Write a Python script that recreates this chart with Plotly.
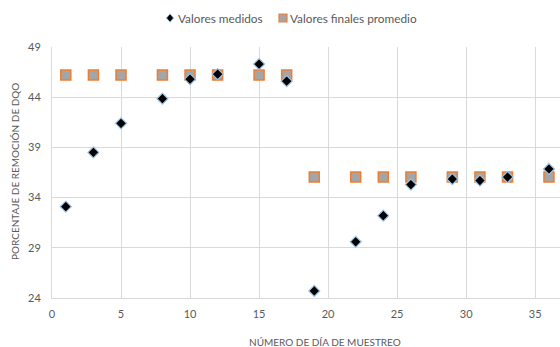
import plotly.graph_objects as go

# Sampling days and COD removal percentages
dias = [1, 3, 5, 8, 10, 12, 15, 17, 19, 22, 24, 26, 29, 31, 33, 36]
medidos = [33.1, 38.5, 41.4, 43.85, 45.8, 46.3, 47.3, 45.6,
           24.7, 29.6, 32.2, 35.3, 35.85, 35.7, 36.05, 36.85]
promedio = [46.2, 46.2, 46.2, 46.2, 46.2, 46.2, 46.2, 46.2,
            36.05, 36.05, 36.05, 36.05, 36.05, 36.05, 36.05, 36.05]
y_ticks = [24, 29, 34, 39, 44, 49]
x_ticks = [0, 5, 10, 15, 20, 25, 30, 35]
nombres = ["Valores medidos", "Valores finales promedio"]

FONT = "Lato, 'Open Sans', sans-serif"
GRAY = "#595959"
SQ_FILL, SQ_LINE = "#a5a5a5", "#ed7d31"
DM_FILL, DM_LINE = "#000000", "#9dc3e6"

# plot area geometry (pixels) used to place the legend keys above it
L, T, W, H = 52, 47, 508, 251


def px_x(px):
    return (px - L) / W


def px_y(py):
    return (T + H - py) / H


fig = go.Figure()
fig.add_trace(go.Scatter(
    x=dias, y=promedio, mode="markers", name=nombres[1], showlegend=False,
    marker=dict(symbol="square", size=10, color=SQ_FILL,
                line=dict(color=SQ_LINE, width=1.5)),
))
fig.add_trace(go.Scatter(
    x=dias, y=medidos, mode="markers", name=nombres[0], showlegend=False,
    marker=dict(symbol="diamond", size=8.5, color=DM_FILL,
                line=dict(color=DM_LINE, width=1.2)),
))

# legend keys
ly = 18
dcx = 170
dx, dy = 3.6, 4.2
diamond_path = "M {} {} L {} {} L {} {} L {} {} Z".format(
    px_x(dcx), px_y(ly - dy), px_x(dcx + dx), px_y(ly),
    px_x(dcx), px_y(ly + dy), px_x(dcx - dx), px_y(ly))
shapes = [
    dict(type="path", xref="paper", yref="paper", path=diamond_path,
         fillcolor=DM_FILL, line=dict(color=DM_LINE, width=1)),
    dict(type="rect", xref="paper", yref="paper",
         x0=px_x(279), x1=px_x(287), y0=px_y(ly + 4), y1=px_y(ly - 4),
         fillcolor=SQ_FILL, line=dict(color=SQ_LINE, width=1.2)),
]

annotations = [
    dict(text=nombres[0], xref="paper", yref="paper", x=px_x(176),
         y=px_y(ly), xanchor="left", yanchor="middle", showarrow=False,
         font=dict(size=11.8, color=GRAY)),
    dict(text=nombres[1], xref="paper", yref="paper", x=px_x(288),
         y=px_y(ly), xanchor="left", yanchor="middle", showarrow=False,
         font=dict(size=11.8, color=GRAY)),
    dict(text="NÚMERO DE DÍA DE MUESTREO", xref="paper", yref="paper",
         x=px_x(325), y=px_y(342), xanchor="center", yanchor="middle",
         showarrow=False, font=dict(size=10, color=GRAY)),
    dict(text="PORCENTAJE DE REMOCIÓN DE DQO", xref="paper", yref="paper",
         x=px_x(15), y=px_y(172), xanchor="center", yanchor="middle",
         textangle=-90, showarrow=False, font=dict(size=10, color=GRAY)),
]

fig.update_layout(
    width=560, height=347,
    margin=dict(l=L, r=0, t=T, b=347 - T - H),
    paper_bgcolor="white", plot_bgcolor="white",
    font=dict(family=FONT, size=11, color=GRAY),
    showlegend=False,
    xaxis=dict(range=[0, 36.8], tickvals=x_ticks, showgrid=True,
               gridcolor="#d9d9d9", gridwidth=1, zeroline=False,
               showline=True, linecolor="#d9d9d9", ticks="",
               ticklabelstandoff=6, tickfont=dict(size=11, color=GRAY)),
    yaxis=dict(range=[24, 49], tickvals=y_ticks, showgrid=True,
               gridcolor="#d9d9d9", gridwidth=1, zeroline=False,
               showline=True, linecolor="#d9d9d9", ticks="",
               ticklabelstandoff=8, tickfont=dict(size=11, color=GRAY)),
    shapes=shapes,
    annotations=annotations,
)

fig.write_html("out.html")
